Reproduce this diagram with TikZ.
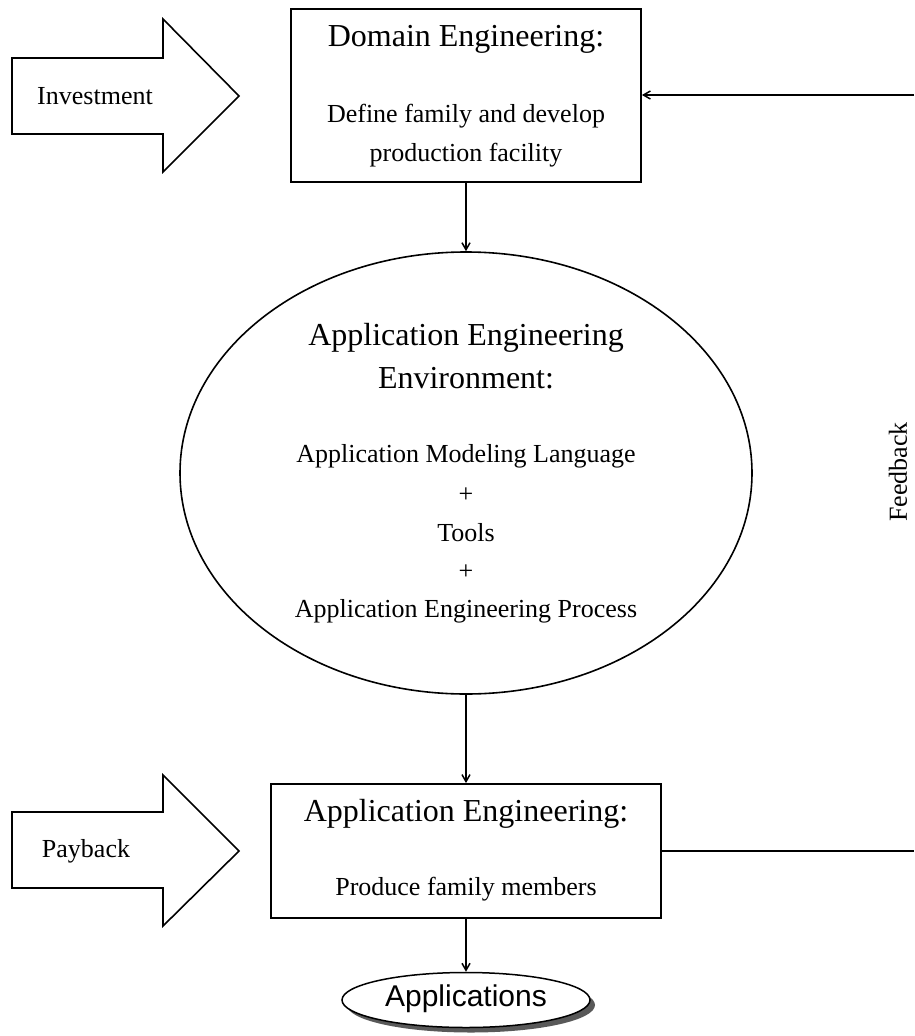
\documentclass[tikz,border=0pt]{standalone}
\usepackage{fontspec}
\setmainfont{Liberation Serif}
\newfontfamily\arialfont{Liberation Sans}
\usetikzlibrary{arrows.meta,shapes.geometric,shadows}
\begin{document}
\begin{tikzpicture}[x=1pt,y=-1pt,
  line/.style={line width=1.8pt},
  conn/.style={line width=1.5pt,-{Straight Barb[length=7pt,width=8pt]}},
  bigarrow/.style={line width=1.6pt,fill=white},
  txt/.style={font=\fontsize{26}{26}\selectfont,inner sep=0pt},
  ttl/.style={font=\fontsize{32}{32}\selectfont,inner sep=0pt}]
\useasboundingbox (0,0) rectangle (914,1036);
% investment arrow
\draw[bigarrow] (12,58) -- (163,58) -- (163,19) -- (239,96) -- (163,172) -- (163,134) -- (12,134) -- cycle;
\node[txt] (inv) at (95,96) {Investment};
% payback arrow
\draw[bigarrow] (12,812) -- (163,812) -- (163,775) -- (239,851) -- (163,926) -- (163,888) -- (12,888) -- cycle;
\node[txt] (pay) at (86,851) {Payback};
% domain engineering box
\node[line,draw,minimum width=350pt,minimum height=173pt,inner sep=0pt] (de) at (466,95.5) {};
\node[ttl] (det) at (466,39) {Domain Engineering:};
\node[txt] (de1) at (466,116) {Define family and develop};
\node[txt] (de2) at (466,155) {production facility};
% ellipse
\node[ellipse,line width=1.6pt,draw,minimum width=572pt,minimum height=442pt,inner sep=0pt] (env) at (466,473) {};
\node[ttl] (e1) at (466,338) {Application Engineering};
\node[ttl] (e2) at (466,378) {Environment:};
\node[txt] (e3) at (466,456) {Application Modeling Language};
\node[txt] (e4) at (466,495) {+};
\node[txt] (e5) at (466,533) {Tools};
\node[txt] (e6) at (466,572) {+};
\node[txt] (e7) at (466,611) {Application Engineering Process};
% application engineering box
\node[line,draw,minimum width=390pt,minimum height=134pt,inner sep=0pt] (ae) at (466,851) {};
\node[ttl] (aet) at (466,814) {Application Engineering:};
\node[txt] (ae1) at (466,889) {Produce family members};
% applications
\node[ellipse,draw,line width=1.5pt,fill=white,minimum width=248pt,minimum height=55pt,inner sep=0pt,
  drop shadow={shadow xshift=5pt,shadow yshift=-5pt,fill=black!65,opacity=1}] (apps) at (466,1000) {};
\node[font=\arialfont\fontsize{30}{30}\selectfont,inner sep=0pt] (appst) at (466,999) {Applications};
% connectors
\draw[conn] (de.south) -- (env.north);
\draw[conn] (env.south) -- (ae.north);
\draw[conn] (ae.south) -- (apps.north);
% feedback
\coordinate (fbtop) at (914,95);
\coordinate (fbbot) at (914,851);
\draw[line width=1.5pt] (ae.east) -- (fbbot);
\draw[conn] (fbtop) -- (de.east |- fbtop);
\node[txt,rotate=90] (fb) at (898,472) {Feedback};
\end{tikzpicture}
\end{document}
